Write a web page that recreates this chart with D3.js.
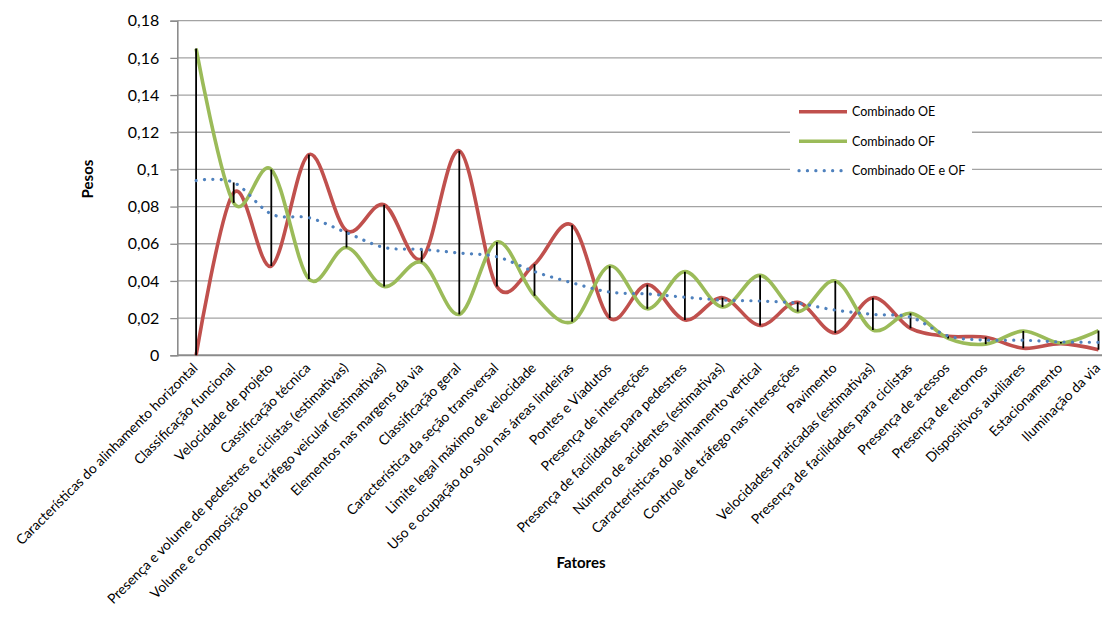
<!DOCTYPE html>
<html>
<head>
<meta charset="utf-8">
<script src="https://cdn.jsdelivr.net/npm/d3@7"></script>
<style>
  html, body { margin: 0; padding: 0; background: #fff; }
  svg { display: block; font-family: Lato, "Open Sans", sans-serif; }
</style>
</head>
<body>
<svg id="chart" width="1102" height="617"></svg>
<script>
// Fatores avaliados
const categories = [
  "Características do alinhamento horizontal",
  "Classificação funcional",
  "Velocidade de projeto",
  "Cassificação técnica",
  "Presença e volume de pedestres e ciclistas (estimativas)",
  "Volume e composição do tráfego veicular (estimativas)",
  "Elementos nas margens da via",
  "Classificação geral",
  "Característica da seção transversal",
  "Limite legal máximo de velocidade",
  "Uso e ocupação do solo nas áreas lindeiras",
  "Pontes e Viadutos",
  "Presença de interseções",
  "Presença de facilidades para pedestres",
  "Número de acidentes (estimativas)",
  "Características do alinhamento vertical",
  "Controle de tráfego nas interseções",
  "Pavimento",
  "Velocidades praticadas (estimativas)",
  "Presença de facilidades para ciclistas",
  "Presença de acessos",
  "Presença de retornos",
  "Dispositivos auxiliares",
  "Estacionamento",
  "Iluminação da via"
];

// Pesos por fator
const combinadoOE = [0, 0.0875, 0.048, 0.108, 0.067, 0.081, 0.052, 0.110, 0.037, 0.049,
  0.070, 0.020, 0.038, 0.019, 0.031, 0.016, 0.0285, 0.012, 0.031, 0.0145,
  0.0102, 0.0097, 0.0038, 0.0063, 0.0030];
const combinadoOF = [0.165, 0.082, 0.100, 0.041, 0.058, 0.037, 0.050, 0.022, 0.061, 0.032,
  0.018, 0.048, 0.025, 0.045, 0.026, 0.043, 0.0235, 0.040, 0.0136, 0.0226,
  0.0091, 0.0060, 0.0131, 0.0066, 0.0133];
const combinadoOEeOF = [0.094, 0.093, 0.076, 0.074, 0.066, 0.058, 0.057, 0.055, 0.053, 0.045,
  0.039, 0.034, 0.033, 0.0312, 0.0297, 0.0292, 0.028, 0.0243, 0.022, 0.0205,
  0.0104, 0.0082, 0.0081, 0.0072, 0.0070];

const yTicks = [0, 0.02, 0.04, 0.06, 0.08, 0.1, 0.12, 0.14, 0.16, 0.18];
const seriesNames = ["Combinado OE", "Combinado OF", "Combinado OE e OF"];

const svg = d3.select("#chart");
const plot = { left: 177.3, top: 20.7, bottom: 355.3 };
const band = 37.6;

const x = d3.scaleBand()
  .domain(categories)
  .range([plot.left, plot.left + band * categories.length])
  .paddingInner(0).paddingOuter(0);
const cx = c => x(c) + x.bandwidth() / 2;

const y = d3.scaleLinear().domain([0, 0.18]).range([plot.bottom, plot.top]);
const fmt = v => String(+v.toFixed(2)).replace(".", ",");

// grade horizontal
svg.append("g")
  .selectAll("line")
  .data(yTicks.filter(v => v > 0))
  .join("line")
  .attr("x1", plot.left).attr("x2", 1102)
  .attr("y1", d => y(d)).attr("y2", d => y(d))
  .attr("stroke", "#a3a3a3").attr("stroke-width", 1.3);

// eixo Y
const yAxis = svg.append("g")
  .attr("transform", `translate(${plot.left},0)`)
  .call(d3.axisLeft(y).tickValues(yTicks).tickFormat(fmt).tickSize(7).tickPadding(11));
yAxis.select(".domain").attr("stroke", "#8c8c8c").attr("stroke-width", 1.6);
yAxis.selectAll(".tick line").attr("stroke", "#8c8c8c").attr("stroke-width", 1.3);
yAxis.selectAll(".tick text")
  .attr("fill", "#000").style("font-size", "16px").style("font-family", "Lato, sans-serif");

// eixo X (linha base)
svg.append("line")
  .attr("x1", plot.left).attr("x2", 1102)
  .attr("y1", y(0)).attr("y2", y(0))
  .attr("stroke", "#8c8c8c").attr("stroke-width", 2);

// rótulos das categorias
svg.append("g")
  .selectAll("text")
  .data(categories)
  .join("text")
  .attr("transform", d => `translate(${cx(d) + 2.5},${369}) rotate(-45)`)
  .attr("text-anchor", "end")
  .style("font-size", "13.8px")
  .attr("fill", "#000")
  .text(d => d);

// títulos dos eixos
svg.append("text")
  .attr("transform", "translate(93,179) rotate(-90)")
  .attr("text-anchor", "middle")
  .style("font-size", "15px").style("font-weight", "bold")
  .text("Pesos");
svg.append("text")
  .attr("x", 581).attr("y", 568)
  .attr("text-anchor", "middle")
  .style("font-size", "15px").style("font-weight", "bold")
  .text("Fatores");

// curvas suavizadas
const line = vals => d3.line()
  .x((d, i) => cx(categories[i]))
  .y(d => y(d))
  .curve(d3.curveCardinal.tension(0))(vals);

svg.append("path").attr("d", line(combinadoOE))
  .attr("fill", "none").attr("stroke", "#c0504d").attr("stroke-width", 3.6);
svg.append("path").attr("d", line(combinadoOF))
  .attr("fill", "none").attr("stroke", "#9bbb59").attr("stroke-width", 3.6);

// linhas de máximo-mínimo
svg.append("g")
  .selectAll("line")
  .data(categories)
  .join("line")
  .attr("x1", d => cx(d)).attr("x2", d => cx(d))
  .attr("y1", (d, i) => y(Math.max(combinadoOE[i], combinadoOF[i], combinadoOEeOF[i])))
  .attr("y2", (d, i) => y(Math.min(combinadoOE[i], combinadoOF[i], combinadoOEeOF[i])))
  .attr("stroke", "#000").attr("stroke-width", 1.8);

svg.append("path").attr("d", line(combinadoOEeOF))
  .attr("fill", "none").attr("stroke", "#4f81bd").attr("stroke-width", 3.2)
  .attr("stroke-linecap", "round").attr("stroke-dasharray", "0.1 8.3");

// legenda
const legend = svg.append("g");
legend.append("rect")
  .attr("x", 790).attr("y", 97).attr("width", 182).attr("height", 92)
  .attr("fill", "#fff");
const legendStyles = [
  { color: "#c0504d", dash: null, width: 3.6 },
  { color: "#9bbb59", dash: null, width: 3.6 },
  { color: "#4f81bd", dash: "0.1 8.3", width: 3.2 }
];
seriesNames.forEach((name, i) => {
  const ly = 111.7 + i * 29.5;
  const st = legendStyles[i];
  legend.append("line")
    .attr("x1", 799).attr("x2", 847).attr("y1", ly).attr("y2", ly)
    .attr("stroke", st.color).attr("stroke-width", st.width)
    .attr("stroke-linecap", st.dash ? "round" : "butt")
    .attr("stroke-dasharray", st.dash);
  legend.append("text")
    .attr("x", 852).attr("y", ly).attr("dy", "0.35em")
    .style("font-size", "12.5px")
    .text(name);
});
</script>
</body>
</html>
